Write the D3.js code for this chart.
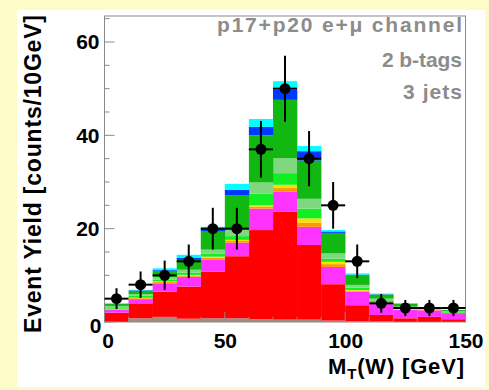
<!DOCTYPE html>
<html><head><meta charset="utf-8">
<script src="https://cdn.jsdelivr.net/npm/d3@7"></script>
<style>body{margin:0;background:#fdfcc8;}svg{display:block;}</style>
</head><body>
<svg id="c" width="489" height="390"></svg>
<script>
const binEdges = [0,10,20,30,40,50,60,70,80,90,100,110,120,130,140,150];
const dataCounts = [5, 8, 10, 13, 20, 20, 37, 50, 35, 25, 13, 4, 3, 3, 3];
const sGray    = [0, 0.8, 1.1, 0.7, 0.8, 0.8, 0.6, 0.5, 0.5, 0.3, 0.2, 0.1, 0, 0, 0];
const sRed     = [2.0, 3.2, 5.4, 6.9, 10.0, 13.3, 19.1, 23.1, 16.0, 7.8, 3.4, 1.4, 0.8, 1.1, 0.6];
const sMagenta = [0.6, 0.9, 1.8, 2.1, 2.6, 2.9, 4.6, 4.3, 3.9, 3.7, 2.9, 2.5, 1.8, 1.4, 1.3];
const sOrange  = [0.15, 0.2, 0.25, 0.25, 0.35, 0.35, 0.4, 0.8, 0.9, 0.6, 0.2, 0.1, 0.1, 0.05, 0.05];
const sYellow  = [0.1, 0.1, 0.15, 0.15, 0.25, 0.25, 0.3, 0.7, 0.9, 0.5, 0.15, 0.1, 0.1, 0.05, 0.05];
const sLime    = [0.3, 0.4, 0.4, 0.5, 0.6, 0.8, 2.5, 2.5, 2.1, 0.7, 0.5, 0.3, 0.2, 0.1, 0.15];
const sLight   = [0.3, 0.4, 0.5, 0.6, 0.9, 1.4, 2.4, 3.2, 2.1, 1.1, 0.6, 0.5, 0.3, 0.15, 0.15];
const sGreen   = [0.4, 0.7, 1.2, 2.1, 4.0, 7.4, 10.1, 12.5, 8.2, 4.4, 2.1, 0.9, 0.6, 0.2, 0.25];
const sBlue    = [0.05, 0.1, 0.3, 0.5, 0.5, 1.1, 1.8, 2.2, 2.0, 0.3, 0.1, 0.05, 0.05, 0.02, 0.02];
const sCyan    = [0.1, 0.1, 0.4, 0.6, 0.4, 1.3, 1.7, 1.8, 1.1, 0.3, 0.25, 0.15, 0.05, 0.03, 0.03];
const layerNames = ["gray","red","magenta","orange","yellow","lime","light","green","blue","cyan"];
const layerValues = [sGray,sRed,sMagenta,sOrange,sYellow,sLime,sLight,sGreen,sBlue,sCyan];
const layerColors = ["#a38d82","#ff0000","#ff33ff","#ff9900","#ffdd00","#11ee22","#7fd87f","#11b811","#0038ff","#00ffff"];
const xTicks = [0,50,100,150];
const yTicks = [0,20,40,60];
const annot = ["p17+p20 e+\u03bc channel","2 b-tags","3 jets"];

const svg = d3.select("#c");
const font = "'Liberation Sans', Arial, Helvetica, sans-serif";
svg.append("rect").attr("x",0).attr("y",0).attr("width",489).attr("height",390).attr("fill","#fdfcc8");
svg.append("rect").attr("x",17).attr("y",10).attr("width",468).attr("height",377).attr("fill","#ffffff");

const L=104.5, R=465.5, T=16, B=322;
const x = d3.scaleLinear().domain([0,150]).range([L,R]);
const y = d3.scaleLinear().domain([0,65.57]).range([B,T]);

const rows = dataCounts.map((d,i)=>{const o={i:i}; layerNames.forEach((n,k)=>o[n]=layerValues[k][i]); return o;});
const stack = d3.stack().keys(layerNames)(rows);
const g = svg.append("g");
stack.forEach((layer,k)=>{
  g.selectAll(null).data(layer).enter().append("rect")
    .attr("x",d=>x(binEdges[d.data.i]))
    .attr("width",d=>x(binEdges[d.data.i+1])-x(binEdges[d.data.i])+0.3)
    .attr("y",d=>y(d[1]))
    .attr("height",d=>Math.max(0,y(d[0])-y(d[1])))
    .attr("fill",layerColors[k]);
});

// frame
svg.append("rect").attr("x",L).attr("y",T).attr("width",R-L).attr("height",B-T)
  .attr("fill","none").attr("stroke","#8a8a8a").attr("stroke-width",1);

// ticks (inside)
const tk = svg.append("g").attr("stroke","#8a8a8a").attr("stroke-width",1);
d3.range(0,66,5).forEach(v=>{
  const major = v%20===0;
  tk.append("line").attr("x1",L).attr("x2",L+(major?10:5)).attr("y1",y(v)).attr("y2",y(v));
});
d3.range(0,151,10).forEach(v=>{
  const major = v%50===0;
  tk.append("line").attr("y1",B).attr("y2",B-(major?10:5)).attr("x1",x(v)).attr("x2",x(v));
});

// axis labels using d3 axes for text
const yAxis = d3.axisLeft(y).tickValues(yTicks).tickSize(0).tickPadding(5);
const ya = svg.append("g").attr("transform",`translate(${L},0)`).call(yAxis);
ya.select(".domain").remove();
ya.selectAll("text").attr("font-family",font).attr("font-weight","bold").attr("font-size",21).attr("fill","#000");
ya.selectAll(".tick").filter(d=>d===0).select("text").attr("dx",2).attr("dy","0.5em");
const xAxis = d3.axisBottom(x).tickValues(xTicks).tickSize(0).tickPadding(11);
const xa = svg.append("g").attr("transform",`translate(0,${B})`).call(xAxis);
xa.select(".domain").remove();
xa.selectAll("text").attr("font-family",font).attr("font-weight","bold").attr("font-size",21).attr("fill","#000");
xa.selectAll(".tick").filter(d=>d===0).select("text").attr("dx",3);

// data points
const dg = svg.append("g");
dataCounts.forEach((n,i)=>{
  const cx = x((binEdges[i]+binEdges[i+1])/2), cy=y(n), e=Math.sqrt(n);
  dg.append("line").attr("x1",x(binEdges[i])).attr("x2",x(binEdges[i+1])).attr("y1",cy).attr("y2",cy).attr("stroke","#000").attr("stroke-width",2);
  dg.append("line").attr("x1",cx).attr("x2",cx).attr("y1",y(n+e)).attr("y2",y(n-e)).attr("stroke","#000").attr("stroke-width",2);
  dg.append("circle").attr("cx",cx).attr("cy",cy).attr("r",5.5).attr("fill","#000");
});

// annotations
const annY=[32,67,99];
const annW=[245,80,59];
annot.forEach((t,i)=>{
  svg.append("text").attr("x",462).attr("y",annY[i]).attr("text-anchor","end")
    .attr("font-family",font).attr("font-weight","bold").attr("font-size",21).attr("fill","#8c8c8c")
    .attr("textLength",annW[i]).attr("lengthAdjust","spacing").text(t);
});

// axis titles
const xt = svg.append("text").attr("x",464).attr("y",374).attr("text-anchor","end")
  .attr("font-family",font).attr("font-weight","bold").attr("font-size",22).attr("fill","#000")
  .attr("textLength",136).attr("lengthAdjust","spacing");
xt.append("tspan").text("M");
xt.append("tspan").attr("font-size",15).attr("dy",5).text("T");
xt.append("tspan").attr("dy",-5).text("(W) [GeV]");

svg.append("text").attr("transform","translate(41,15) rotate(-90)").attr("text-anchor","end")
  .attr("font-family",font).attr("font-weight","bold").attr("font-size",23).attr("fill","#000")
  .attr("textLength",318).attr("lengthAdjust","spacing")
  .text("Event Yield [counts/10GeV]");
</script>
</body></html>
